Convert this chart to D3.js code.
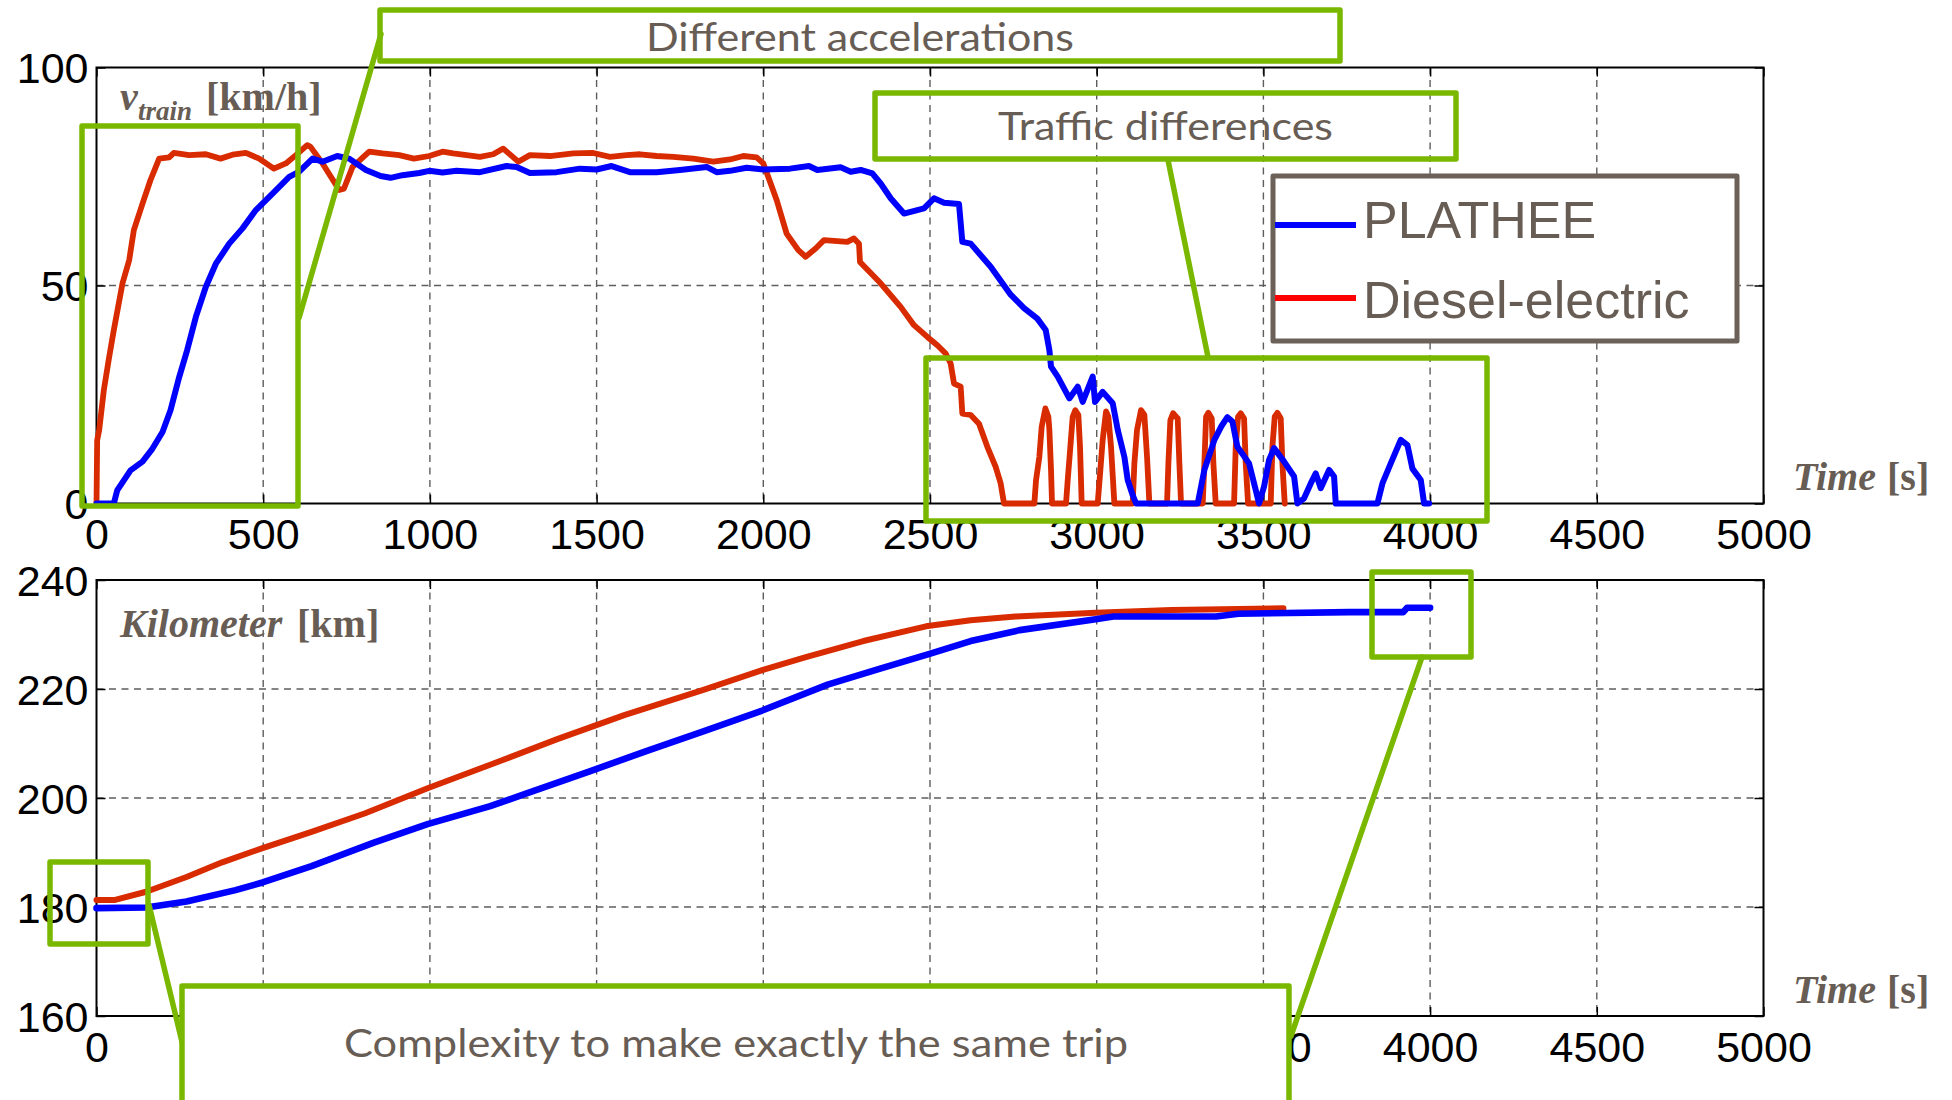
<!DOCTYPE html>
<html>
<head>
<meta charset="utf-8">
<script src="https://cdn.jsdelivr.net/npm/d3@7"></script>
<style>
  html, body { margin: 0; padding: 0; background: #ffffff; }
  svg { display: block; }
</style>
</head>
<body>
<svg id="chart" width="1952" height="1100"></svg>
<script>
// ---- data -------------------------------------------------------------
const seriesNames = ["PLATHEE", "Diesel-electric"];
const timeTicks = [0, 500, 1000, 1500, 2000, 2500, 3000, 3500, 4000, 4500, 5000];
const speedTicks = [0, 50, 100];
const kmTicks = [160, 180, 200, 220, 240];
// lower time-axis labels left uncovered by the trip note
const kmTimeLabels = [0, 3500, 4000, 4500, 5000];

// train speed [km/h] against time [s]
const platheeSpeed = [
  [0,0],[52,0],[62,3],[102,7.6],[138,9.6],[168,12.6],[198,16.4],[222,21.4],[248,29],[272,35.2],
  [298,42.8],[328,49.7],[358,55],[398,59.6],[438,63.1],[478,67.3],[528,71.1],[578,74.9],[608,76.1],
  [648,79.1],[678,78.4],[722,79.7],[758,79.1],[808,76.5],[852,75.1],[882,74.7],[918,75.3],[968,75.8],
  [998,76.3],[1038,75.9],[1080,76.3],[1150,76],[1230,77.4],[1260,77.2],[1300,75.8],[1380,76],
  [1450,76.8],[1500,76.6],[1545,77.4],[1600,76],[1680,76],[1750,76.5],[1830,77.2],[1860,76],
  [1900,76.3],[1950,77],[2000,76.6],[2080,76.8],[2137,77.4],[2162,76.5],[2232,77.1],[2262,76.1],
  [2292,76.5],[2327,75.7],[2352,73.4],[2382,70],[2422,66.5],[2462,67.3],[2482,67.7],[2512,70],
  [2542,69],[2587,68.7],[2597,60],[2622,59.6],[2682,54.3],[2742,47.9],[2782,44.8],[2822,42.4],
  [2847,39.8],[2858,35.2],[2863,31.4],[2883,29.1],[2918,24.1],[2943,26.8],[2958,23.3],[2988,29.1],
  [2995,23.3],[3018,25.6],[3048,23],[3063,16.9],[3083,10.7],[3093,5.4],[3108,1.9],[3118,0],
  [3303,0],[3323,7.7],[3353,14.6],[3373,17.6],[3392,19.8],[3407,18.8],[3422,13],[3457,9.2],
  [3477,3.1],[3487,0],[3502,3.9],[3517,10],[3532,12.7],[3562,9.6],[3592,6.2],[3602,0],[3622,1.2],
  [3642,4.6],[3657,6.9],[3672,3.5],[3697,7.7],[3712,6.2],[3717,0],[3842,0],[3857,4.6],[3882,9.2],
  [3912,14.6],[3932,13.4],[3947,8],[3972,5.4],[3982,0],[3997,0]
];

const dieselSpeed = [
  [0,0],[2,14.5],[8,16.8],[22,26],[38,33.6],[52,39.8],[78,50.5],[98,55.8],[112,62.7],[138,68.8],
  [162,74.2],[188,79.1],[218,79.4],[232,80.4],[278,79.9],[328,80.1],[372,79.1],[408,80],[448,80.4],
  [488,79.1],[532,76.8],[568,78],[598,79.9],[632,82.2],[642,81.8],[678,78],[728,71.9],[742,72.2],
  [768,77.2],[818,80.7],[858,80.3],[908,79.9],[952,79.1],[998,79.7],[1038,80.7],[1070,80.3],
  [1110,79.9],[1150,79.5],[1190,80.1],[1220,81.4],[1265,78.4],[1300,79.9],[1360,79.7],[1430,80.3],
  [1490,80.4],[1540,79.5],[1590,79.9],[1630,80.1],[1680,79.7],[1730,79.5],[1790,79.1],[1850,78.4],
  [1900,78.9],[1940,79.7],[1980,79.4],[2000,78],[2015,74.9],[2040,69.6],[2070,61.9],[2105,58.1],
  [2127,56.6],[2157,58.5],[2182,60.4],[2252,60],[2272,60.8],[2287,59.6],[2290,55.4],[2352,50.5],
  [2412,45.1],[2452,40.9],[2492,38.2],[2522,36.3],[2547,34.4],[2562,32.1],[2572,27.5],[2592,26.8],
  [2597,20.6],[2622,20.3],[2647,18.3],[2672,13],[2697,8.4],[2712,4.6],[2722,0],
  [2813,0],[2818,5.3],[2828,10.7],[2835,17.6],[2846,21.8],[2855,19.9],[2858,17],[2863,7.7],[2866,0],
  [2908,0],[2913,5.3],[2921,13],[2928,19.9],[2936,21.4],[2945,20.3],[2950,13],[2955,0],
  [3003,0],[3011,7.7],[3018,14.6],[3028,21.1],[3035,19.9],[3043,13],[3053,0],
  [3108,0],[3113,9.2],[3121,16.9],[3133,21.4],[3143,20.3],[3151,10.7],[3158,0],
  [3211,0],[3215,9.2],[3221,19.1],[3229,20.7],[3243,19.5],[3248,9.2],[3253,0],
  [3318,0],[3323,9.2],[3328,19.9],[3335,20.8],[3345,19.5],[3350,9.2],[3357,0],
  [3412,0],[3417,13],[3424,19.9],[3432,20.7],[3442,19.5],[3447,9.2],[3454,0],
  [3522,0],[3527,13],[3534,19.9],[3542,20.8],[3552,19.5],[3557,9.2],[3564,0]
];

// kilometre post [km] against time [s]
const platheeKm = [
  [0,179.8],[149,179.9],[270,181],[417,183.1],[498,184.5],[645,187.5],[832,191.8],[993,195.2],
  [1181,198.5],[1288,200.8],[1475,204.8],[1649,208.6],[1818,212.2],[1999,216.1],[2193,220.8],
  [2353,223.8],[2501,226.5],[2622,228.8],[2769,230.8],[2997,232.8],[3050,233.3],[3358,233.3],
  [3425,233.8],[3757,234.1],[3919,234.1],[3931,234.9],[4000,234.9]
];

const dieselKm = [
  [0,181.3],[56,181.3],[149,182.8],[270,185.5],[377,188.2],[498,190.8],[645,193.8],[806,197.2],
  [993,201.8],[1181,206.1],[1382,210.8],[1583,215.2],[1818,219.8],[1999,223.5],[2125,225.8],
  [2300,228.8],[2488,231.5],[2622,232.6],[2756,233.3],[2997,234],[3224,234.5],[3560,234.8]
];

// ---- layout & style ---------------------------------------------------
const BLUE = "#0000ff", RED = "#d92b00", LEG_RED = "#ff0000";
const GREEN = "#7ab800", TXT = "#675d55";
const L = 96.5, R = 1763.5;

const svg = d3.select("#chart");
svg.append("rect").attr("width", 1952).attr("height", 1100).attr("fill", "#fff");

const x = d3.scaleLinear().domain([0, 5000]).range([L, R]);
const ySpeed = d3.scaleLinear().domain([0, 100]).range([503.5, 67.5]);
const yKm = d3.scaleLinear().domain([160, 240]).range([1016, 580]);

function panel(y, yTicks, xLabels, labelPad) {
  const [y0, y1] = y.range();
  const g = svg.append("g");
  const grid = g.append("g")
    .attr("stroke", "#5e5e5e").attr("stroke-width", 1.4).attr("stroke-dasharray", "7,5.5");
  grid.selectAll("line.v").data(timeTicks.slice(1, -1)).join("line")
    .attr("x1", d => x(d)).attr("x2", d => x(d)).attr("y1", y1).attr("y2", y0);
  grid.selectAll("line.h").data(yTicks.slice(1, -1)).join("line")
    .attr("x1", L).attr("x2", R).attr("y1", d => y(d)).attr("y2", d => y(d));

  const styleAxis = sel => {
    sel.select(".domain").remove();
    sel.selectAll(".tick line").attr("stroke", "#000").attr("stroke-width", 1.5);
    sel.selectAll(".tick text")
      .attr("font-family", "'Liberation Sans', Arial, sans-serif")
      .attr("font-size", 43).attr("fill", "#000");
  };
  const xb = g.append("g").attr("transform", `translate(0,${y0})`)
    .call(d3.axisBottom(x).tickValues(timeTicks).tickSize(-9).tickPadding(labelPad)
      .tickFormat(d => xLabels.includes(d) ? String(d) : ""))
    .call(styleAxis);
  xb.selectAll(".tick text").filter(function () { return this.textContent === ""; }).remove();
  g.append("g").attr("transform", `translate(0,${y1})`)
    .call(d3.axisTop(x).tickValues(timeTicks).tickFormat("").tickSize(-9)).call(styleAxis)
    .selectAll(".tick text").remove();
  g.append("g").attr("transform", `translate(${L},0)`)
    .call(d3.axisLeft(y).tickValues(yTicks).tickFormat(d3.format("d"))
      .tickSize(-9).tickPadding(8)).call(styleAxis)
    .selectAll(".tick text").attr("dy", "0.35em");
  g.append("g").attr("transform", `translate(${R},0)`)
    .call(d3.axisRight(y).tickValues(yTicks).tickFormat("").tickSize(-9)).call(styleAxis)
    .selectAll(".tick text").remove();

  g.append("rect").attr("x", L).attr("y", y1).attr("width", R - L).attr("height", y0 - y1)
    .attr("fill", "none").attr("stroke", "#000").attr("stroke-width", 2);
}

panel(ySpeed, speedTicks, timeTicks, 14.5);
panel(yKm, kmTicks, kmTimeLabels, 15);

// ---- curves -----------------------------------------------------------
function curve(data, y, color, width) {
  svg.append("path").datum(data)
    .attr("d", d3.line().x(d => x(d[0])).y(d => y(d[1])))
    .attr("fill", "none").attr("stroke", color).attr("stroke-width", width)
    .attr("stroke-linejoin", "round").attr("stroke-linecap", "round");
}
curve(dieselSpeed, ySpeed, RED, 5.8);
curve(platheeSpeed, ySpeed, BLUE, 6);
curve(dieselKm, yKm, RED, 6);
curve(platheeKm, yKm, BLUE, 6.6);

// ---- axis titles ------------------------------------------------------
const serif = "'Liberation Serif', 'Times New Roman', serif";
const vt = svg.append("text").attr("font-family", serif).attr("font-weight", "bold")
  .attr("font-size", 40).attr("fill", TXT);
vt.append("tspan").attr("x", 120).attr("y", 110).attr("font-style", "italic").text("v");
vt.append("tspan").attr("x", 138).attr("y", 120).attr("font-style", "italic")
  .attr("font-size", 27).text("train");
vt.append("tspan").attr("x", 206).attr("y", 110).text("[km/h]");

const kt = svg.append("text").attr("font-family", serif).attr("font-weight", "bold")
  .attr("font-size", 40).attr("fill", TXT);
kt.append("tspan").attr("x", 120).attr("y", 637).attr("font-style", "italic").text("Kilometer");
kt.append("tspan").attr("x", 297).attr("y", 637).text("[km]");

[490, 1003].forEach(yb => {
  const tt = svg.append("text").attr("font-family", serif).attr("font-weight", "bold")
    .attr("font-size", 40).attr("fill", TXT);
  tt.append("tspan").attr("x", 1793).attr("y", yb).attr("font-style", "italic").text("Time");
  tt.append("tspan").attr("x", 1887).attr("y", yb).text("[s]");
});

// ---- legend -----------------------------------------------------------
const leg = svg.append("g");
leg.append("rect").attr("x", 1273).attr("y", 176).attr("width", 464).attr("height", 165)
  .attr("fill", "#fff").attr("stroke", "#6b6159").attr("stroke-width", 5)
  .attr("stroke-linejoin", "round");
[[seriesNames[0], BLUE, 225, 238], [seriesNames[1], LEG_RED, 298, 318]].forEach(([name, c, ly, ty]) => {
  leg.append("line").attr("x1", 1275).attr("x2", 1356).attr("y1", ly).attr("y2", ly)
    .attr("stroke", c).attr("stroke-width", 6);
  leg.append("text").attr("x", 1363).attr("y", ty)
    .attr("font-family", "'Liberation Sans', Arial, sans-serif").attr("font-size", 52)
    .attr("fill", TXT).text(name);
});

// ---- annotations ------------------------------------------------------
const ann = svg.append("g").attr("stroke", GREEN).attr("stroke-width", 5.5)
  .attr("stroke-linejoin", "round").attr("stroke-linecap", "round");
function box(x0, y0, x1, y1, fill) {
  ann.append("rect").attr("x", x0).attr("y", y0).attr("width", x1 - x0).attr("height", y1 - y0)
    .attr("fill", fill || "none");
}
function link(x0, y0, x1, y1) {
  ann.append("line").attr("x1", x0).attr("y1", y0).attr("x2", x1).attr("y2", y1);
}
function note(str, x0, x1, yb) {
  svg.append("text").attr("x", x0).attr("y", yb)
    .attr("font-family", "Lato, 'Open Sans', sans-serif").attr("font-size", 38)
    .attr("fill", TXT).attr("textLength", x1 - x0).attr("lengthAdjust", "spacingAndGlyphs")
    .text(str);
}

link(299, 318, 381, 34);
box(82, 126, 298, 506);
box(380, 10, 1340, 61);
link(1168, 160, 1208, 357);
box(875, 93, 1456, 159);
box(926, 358, 1487, 521);

link(149, 905, 183, 1046);
link(1422, 657, 1291, 1036);
box(50, 862, 148, 944);
box(1372, 572, 1471, 657);
box(182, 986, 1289, 1112, "#fff");

note("Different accelerations", 646, 1074, 51);
note("Traffic differences", 998, 1333, 140);
note("Complexity to make exactly the same trip", 344, 1128, 1057);
</script>
</body>
</html>
